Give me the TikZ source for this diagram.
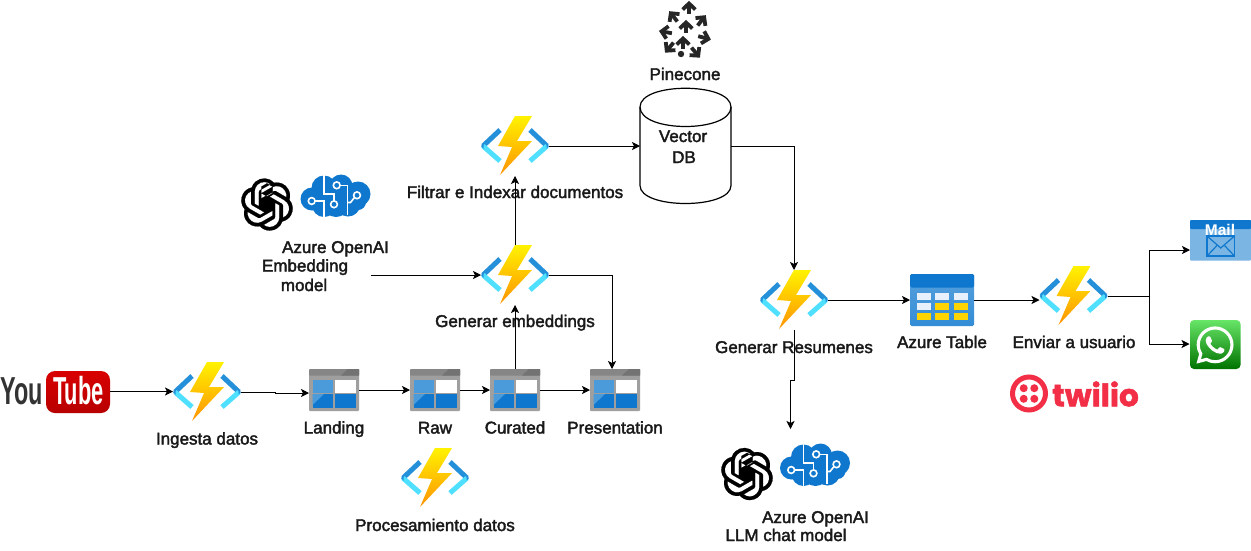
\documentclass[tikz,border=0pt]{standalone}
\usepackage{fontspec}
\setmainfont{Liberation Sans}
\newfontfamily\lblfont[FakeBold=2.2]{Liberation Sans}
\newfontfamily\twfont[FakeBold=1.5]{Poppins Bold}
\usetikzlibrary{arrows.meta,svg.path}
\definecolor{azdark}{HTML}{2490DA}
\definecolor{azlight}{HTML}{50E0FF}
\definecolor{azblue}{HTML}{0F78CE}
\definecolor{twred}{HTML}{F22F46}
\tikzset{
  lbl/.style={font=\lblfont\fontsize{17}{18}\selectfont,inner sep=0pt,anchor=base,yshift=-6pt,text=black!90},
  conn/.style={draw=black,line width=0.8pt,-{Stealth[length=8pt,width=8pt,inset=2pt]}},
  hold/.style={inner sep=0pt,outer sep=0pt,minimum width=#1},
  funcicon/.pic={
    \draw[azdark,line width=5pt] (-32,0) -- (-15,-16);
    \draw[azlight,line width=5pt] (-32,0) -- (-15,15);
    \draw[azdark,line width=5pt] (32,0) -- (15,-16);
    \draw[azlight,line width=5pt] (32,0) -- (15,15);
    \fill[azdark] (-34,0) -- (-31.5,-2.5) -- (-31.5,2.5) -- cycle;
    \fill[azdark] (34,0) -- (31.5,-2.5) -- (31.5,2.5) -- cycle;
    \shade[top color=yellow!90!orange,bottom color=orange!85!yellow]
      (17,-30) -- (0,-30) -- (-17,0) -- (-3,1) -- (-15,29) -- (17,-5) -- (2,-5) -- cycle;
  },
  storeicon/.pic={
    \fill[gray!75,rounded corners=1pt] (-25,-21) rectangle (25,21);
    \fill[gray!95,rounded corners=1pt] (-25,-21) rectangle (25,-14.5);
    \fill[gray!100!black!110] (7,-14.5) -- (14,-21) -- (25,-21) -- (25,-14.5) -- cycle;
    \fill[azblue!75!white] (-21.5,-10) rectangle (-0.7,2.8);
    \fill[white] (0.7,-10) rectangle (21.5,2.8);
    \fill[azblue] (-21.5,4) rectangle (-0.7,17.5);
    \fill[azblue!75!white] (-21.5,4) -- (-10,4) -- (-21.5,15) -- cycle;
    \fill[azblue] (0.7,4) rectangle (21.5,17.5);
  },
  openaiicon/.pic={
    \begin{scope}[xscale=2.17,yscale=-2.17,shift={(-12pt,-12pt)}]
    \fill[black,draw=black,line width=.18pt] svg {M 22.2819 9.8211 a 5.9847 5.9847 0 0 0 -.5157 -4.9108 a 6.0462 6.0462 0 0 0 -6.5098 -2.9 A 6.0651 6.0651 0 0 0 4.9807 4.1818 a 5.9847 5.9847 0 0 0 -3.9977 2.9 a 6.0462 6.0462 0 0 0 .7427 7.0966 a 5.98 5.98 0 0 0 .511 4.9107 a 6.051 6.051 0 0 0 6.5146 2.9001 A 5.9847 5.9847 0 0 0 13.2599 24 a 6.0557 6.0557 0 0 0 5.7718 -4.2058 a 5.9894 5.9894 0 0 0 3.9977 -2.9001 a 6.0557 6.0557 0 0 0 -.7475 -7.0729 z m -9.022 12.6081 a 4.4755 4.4755 0 0 1 -2.8764 -1.0408 l .1419 -.0804 l 4.7783 -2.7582 a .7948 .7948 0 0 0 .3927 -.6813 v -6.7369 l 2.02 1.1686 a .071 .071 0 0 1 .038 .052 v 5.5826 a 4.504 4.504 0 0 1 -4.4945 4.4944 z m -9.6607 -4.1254 a 4.4708 4.4708 0 0 1 -.5346 -3.0137 l .142 .0852 l 4.783 2.7582 a .7712 .7712 0 0 0 .7806 0 l 5.8428 -3.3685 v 2.3324 a .0804 .0804 0 0 1 -.0332 .0615 L 9.74 19.9502 a 4.4992 4.4992 0 0 1 -6.1408 -1.6464 z M 2.3408 7.8956 a 4.485 4.485 0 0 1 2.3655 -1.9728 V 11.6 a .7664 .7664 0 0 0 .3879 .6765 l 5.8144 3.3543 l -2.0201 1.1685 a .0757 .0757 0 0 1 -.071 0 l -4.8303 -2.7865 A 4.504 4.504 0 0 1 2.3408 7.872 z m 16.5963 3.8558 L 13.1038 8.364 L 15.1192 7.2 a .0757 .0757 0 0 1 .071 0 l 4.8303 2.7913 a 4.4944 4.4944 0 0 1 -.6765 8.1042 v -5.6772 a .79 .79 0 0 0 -.407 -.667 z m 2.0107 -3.0231 l -.142 -.0852 l -4.7735 -2.7818 a .7759 .7759 0 0 0 -.7854 0 L 9.409 9.2297 V 6.8974 a .0662 .0662 0 0 1 .0284 -.0615 l 4.8303 -2.7866 a 4.4992 4.4992 0 0 1 6.6802 4.66 z M 8.3065 12.863 l -2.02 -1.1638 a .0804 .0804 0 0 1 -.038 -.0567 V 6.0742 a 4.4992 4.4992 0 0 1 7.3757 -3.4537 l -.142 .0805 L 8.704 5.459 a .7948 .7948 0 0 0 -.3927 .6813 z m 1.0976 -2.3654 l 2.602 -1.4998 l 2.6069 1.4998 v 2.9994 l -2.5974 1.4997 l -2.6099 -1.4997 z};
    \end{scope}
  },
  brainicon/.pic={
    \fill[azblue] (-24,3) circle[radius=11.5pt];
    \fill[azblue] (-12,-8) circle[radius=12.5pt];
    \fill[azblue] (5,-10) circle[radius=11.5pt];
    \fill[azblue] (22,-2) circle[radius=12.5pt];
    \fill[azblue] (12,8) circle[radius=12.5pt];
    \fill[azblue] (-12,9) circle[radius=12pt];
    \fill[azblue] (0,8) circle[radius=13pt];
    \fill[azblue,rounded corners=8pt] (-30,-4) rectangle (30,14);
    \begin{scope}[white,line width=1.6pt]
      \draw (0.7,-10.7) circle[radius=3.4pt];
      \draw (21,-0.7) circle[radius=3.4pt];
      \draw (-2,8.3) circle[radius=3.4pt];
      \draw (-24.3,5) circle[radius=3.4pt];
      \draw (-12,-21) -- (-12,-2.3) -- (-2,-2.3) -- (-2,5);
      \draw (-21,5) -- (-12,5) -- (-12,21);
      \draw (4,-10.7) -- (11.3,-10.7) -- (11.3,19);
      \draw (18.5,1.5) -- (14.5,6.5) -- (11.3,6.5);
    \end{scope}
  },
}
\newcommand{\pinearrow}[3]{%
  \begin{scope}[shift={(#1,#2)},rotate=#3,line width=3.8pt,black!85]
    \draw (-6.3,2.5) -- (0,-3.5) -- (6.3,2.5);
    \draw (0,-3) -- (0,7);
  \end{scope}}
\begin{document}
\begin{tikzpicture}[x=1pt,y=-1pt]
\useasboundingbox (0,0) rectangle (1251,550);
\fill[white] (0,0) rectangle (1251,550);

% YouTube
\node[inner sep=0pt,font=\bfseries\fontsize{39}{40}\selectfont,text=black!80,xscale=.6] (yout) at (21.5,391) {You};
\shade[top color=red!85!black,bottom color=red!72!black,rounded corners=9pt] (46,371) rectangle (110,413);
\node[hold=64pt,minimum height=42pt] (ytube) at (78,392) {};
\node[inner sep=0pt,font=\bfseries\fontsize{39}{40}\selectfont,text=white,xscale=.56] (ytxt) at (78.5,391) {Tube};

% Function icons
\foreach \n/\x/\y in {f1/207/392, fproc/435/478, fembed/515/275, ffilt/515/146, fres/794/300, fsend/1073.5/296}{
  \node[hold=68pt,minimum height=60pt] (\n) at (\x,\y) {};
  \pic at (\x,\y) {funcicon};
}
% Storage icons
\foreach \n/\x in {land/334,raw/435,cur/515,pres/615}{
  \node[hold=50pt,minimum height=42pt] (\n) at (\x,390) {};
  \pic at (\x,390) {storeicon};
}

% Labels
\node[lbl] (l1) at (207,438.5) {Ingesta datos};
\node[lbl] (l2) at (334,427.5) {Landing};
\node[lbl] (l3) at (435,427.5) {Raw};
\node[lbl] (l4) at (515,427.5) {Curated};
\node[lbl] (l5) at (615,427.5) {Presentation};
\node[lbl] (l6) at (435,525) {Procesamiento datos};
\node[lbl] (l7) at (515,192) {Filtrar e Indexar documentos};
\node[lbl] (l8) at (515,321) {Generar embeddings};
\node[lbl] (l9) at (794,347) {Generar Resumenes};
\node[lbl] (l10) at (942,342) {Azure Table};
\node[lbl] (l11) at (1074,342) {Enviar a usuario};
\node[lbl] (l12) at (685,74) {Pinecone};
\node[lbl] (l13) at (335.5,247) {Azure OpenAI};
\node[lbl] (l14) at (305,265.5) {Embedding};
\node[lbl] (l15) at (304,285) {model};
\node[lbl] (l16) at (815.5,517) {Azure OpenAI};
\node[lbl] (l17) at (786,535) {LLM chat model};

% Pinecone logo
\pinearrow{689}{7}{0}
\pinearrow{673}{16}{38}
\pinearrow{702}{20}{-38}
\pinearrow{686}{26}{0}
\pinearrow{665}{32}{80}
\pinearrow{705}{38}{-105}
\pinearrow{683}{42}{0}
\pinearrow{669}{48}{140}
\pinearrow{696}{53}{-140}
\fill[black!85] (681,54) circle[radius=3.2pt];

% Vector DB
\node[hold=91pt,minimum height=116pt] (db) at (685.5,146) {};
\draw[black,line width=1.2pt,fill=white] (640,107) -- (640,185.5) .. controls (640,209.5) and (731,209.5) .. (731,185.5) -- (731,107) .. controls (731,82) and (640,82) .. (640,107) -- cycle;
\draw[black,line width=1.2pt] (640,107) .. controls (640,133) and (731,133) .. (731,107);
\node[lbl] (l18) at (683,136) {Vector};
\node[lbl] (l19) at (684,157) {DB};

% OpenAI + brain
\node[hold=52pt,minimum height=52pt] (oa1) at (267,204.5) {};
\pic at (267,204.5) {openaiicon};
\node[hold=70pt,minimum height=42pt] (br1) at (336,196) {};
\pic at (336,196) {brainicon};
\node[hold=52pt,minimum height=52pt] (oa2) at (747,474) {};
\pic at (747,474) {openaiicon};
\node[hold=70pt,minimum height=42pt] (br2) at (815.5,465) {};
\pic at (815.5,465) {brainicon};

% Azure table
\node[hold=64pt,minimum height=52pt] (tbl) at (942,300) {};
\shade[top color=azblue!70!white,bottom color=azblue!85!white,rounded corners=1.5pt] (910,274) rectangle (974,326);
\fill[azblue,rounded corners=1.5pt] (910,274) rectangle (974,287.5);
\foreach \cx/\cy/\c in {916.7/293.3/E8F0FC,935.3/293.3/E8F0FC,954/293.3/E8F0FC,916.7/303.3/E8F0FC,935.3/303.3/FFD400,954/303.3/FFD400,916.7/313.3/FFD400,935.3/313.3/FFD400,954/313.3/FFD400}{
  \definecolor{cellc}{HTML}{\c}
  \fill[cellc] (\cx,\cy) rectangle ++(14,6.8);
}

% Mail
\node[hold=61pt,minimum height=41pt] (mail) at (1220.5,240.3) {};
\fill[azblue!55!white,rounded corners=1pt] (1190,220) rectangle (1251,260.7);
\fill[azblue,rounded corners=1pt] (1190,220) rectangle (1251,229);
\draw[azblue,line width=1.2pt] (1207,236) rectangle (1234.5,256);
\draw[azblue,line width=1.2pt] (1207,236) -- (1220.7,248) -- (1234.5,236);
\draw[azblue,line width=1.2pt] (1207,256) -- (1217,245.5);
\draw[azblue,line width=1.2pt] (1234.5,256) -- (1224.5,245.5);
\node[inner sep=0pt,font=\bfseries\fontsize{15.5}{16}\selectfont,text=white] (mailtxt) at (1220,230) {Mail};

% WhatsApp
\node[hold=51pt,minimum height=49pt] (wa) at (1215,344.5) {};
\shade[top color=green!55!white!90!black,bottom color=green!45!black,rounded corners=4pt] (1190,320) rectangle (1240.5,369);
\begin{scope}[shift={(1215,345)},xscale=1.55,yscale=-1.55,shift={(-12pt,-12pt)}]
\fill[white] svg {M 17.472 14.382 c -.297 -.149 -1.758 -.867 -2.03 -.967 c -.273 -.099 -.471 -.148 -.67 .15 c -.197 .297 -.767 .966 -.94 1.164 c -.173 .199 -.347 .223 -.644 .075 c -.297 -.15 -1.255 -.463 -2.39 -1.475 c -.883 -.788 -1.48 -1.761 -1.653 -2.059 c -.173 -.297 -.018 -.458 .13 -.606 c .134 -.133 .298 -.347 .446 -.52 c .149 -.174 .198 -.298 .298 -.497 c .099 -.198 .05 -.371 -.025 -.52 c -.075 -.149 -.669 -1.612 -.916 -2.207 c -.242 -.579 -.487 -.5 -.669 -.51 c -.173 -.008 -.371 -.01 -.57 -.01 c -.198 0 -.52 .074 -.792 .372 c -.272 .297 -1.04 1.016 -1.04 2.479 c 0 1.462 1.065 2.875 1.213 3.074 c .149 .198 2.096 3.2 5.077 4.487 c .709 .306 1.262 .489 1.694 .625 c .712 .227 1.36 .195 1.871 .118 c .571 -.085 1.758 -.719 2.006 -1.413 c .248 -.694 .248 -1.289 .173 -1.413 c -.074 -.124 -.272 -.198 -.57 -.347 m -5.421 7.403 h -.004 a 9.87 9.87 0 0 1 -5.031 -1.378 l -.361 -.214 l -3.741 .982 l .998 -3.648 l -.235 -.374 a 9.86 9.86 0 0 1 -1.51 -5.26 c .001 -5.45 4.436 -9.884 9.888 -9.884 c 2.64 0 5.122 1.03 6.988 2.898 a 9.825 9.825 0 0 1 2.893 6.994 c -.003 5.45 -4.437 9.884 -9.885 9.884 m 8.413 -18.297 A 11.815 11.815 0 0 0 12.05 0 C 5.495 0 .16 5.335 .157 11.892 c 0 2.096 .547 4.142 1.588 5.945 L .057 24 l 6.305 -1.654 a 11.882 11.882 0 0 0 5.683 1.448 h .005 c 6.554 0 11.89 -5.335 11.893 -11.893 a 11.821 11.821 0 0 0 -3.48 -8.413 z};
\end{scope}

% Twilio
\node[hold=38pt,minimum height=38pt] (twc) at (1029,393.5) {};
\draw[twred,line width=5pt] (1029,393.5) circle[radius=16.5pt];
\foreach \dx/\dy in {-5.3/-5.3,5.3/-5.3,-5.3/5.3,5.3/5.3}{\fill[twred] (1029+\dx,393.5+\dy) circle[radius=4pt];}
\node[inner sep=0pt,anchor=west,font=\twfont\fontsize{31}{32}\selectfont,text=twred] (twt) at (1052,394) {twilio};

% Connector ends
\coordinate (emb) at (371,275);
\coordinate (yt) at (110,391.5);

% Connectors
\draw[conn] (yt) -- (yt -| f1.west);
\draw[conn] (f1.east) -- (275,392) -- (275,393) -- (land.west |- 0,393);
\draw[conn] (land.east) -- (raw.west);
\draw[conn] (raw.east) -- (cur.west);
\draw[conn] (cur.east) -- (pres.west);
\draw[conn] (cur.north) -- (fembed.south);
\draw[conn] (fembed.north) -- (ffilt.south);
\draw[conn] (emb) -- (fembed.west);
\draw[conn] (fembed.east) -- (612,275) -- (612,369);
\draw[conn] (ffilt.east) -- (db.west |- ffilt.east);
\draw[conn] (db.east |- ffilt.east) -- (794,146) -- (fres.north);
\draw[conn] (fres.east) -- (tbl.west |- fres.east);
\draw[conn] (tbl.east) -- (tbl.east -| fsend.west);
\coordinate (k) at (1149,296);
\draw[conn] (fsend.east) -- (k) |- (mail.west |- 0,250);
\draw[conn] (fsend.east) -- (k) |- (wa.west |- 0,344);
\coordinate (llm) at (790.5,429);
\draw[conn] (fres.south) -- (794,380) -- (790.5,380) -- (llm);
\end{tikzpicture}
\end{document}
